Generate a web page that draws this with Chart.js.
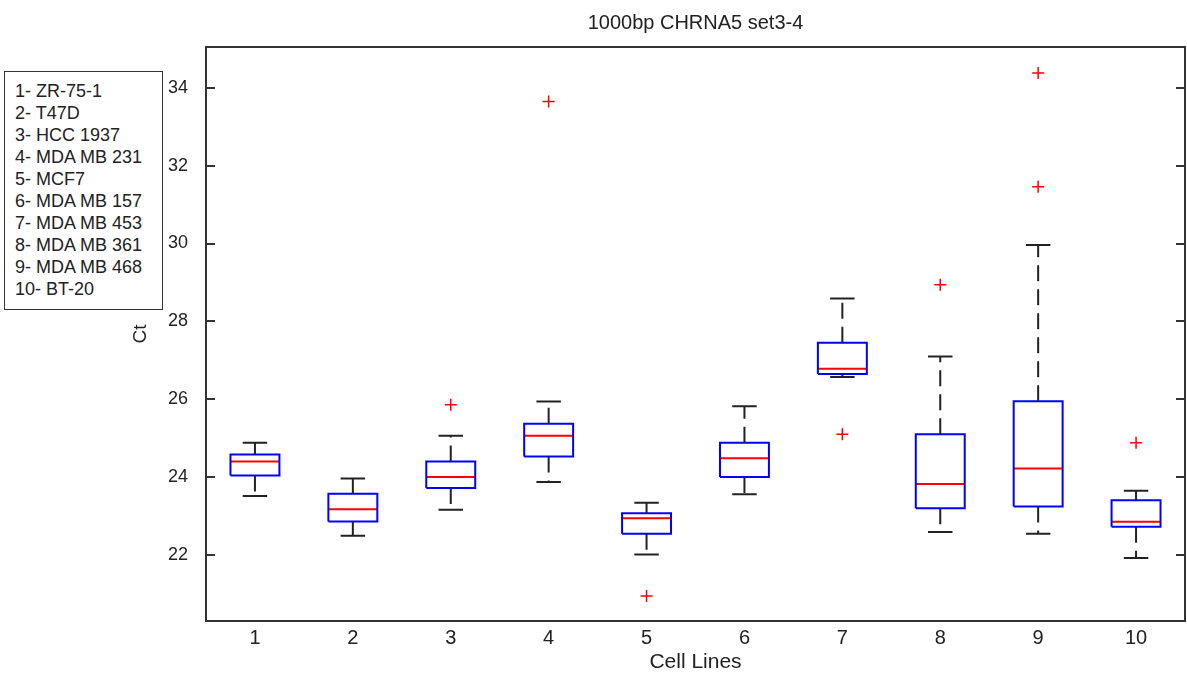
<!DOCTYPE html>
<html>
<head>
<meta charset="utf-8">
<title>1000bp CHRNA5 set3-4</title>
<script src="https://cdn.jsdelivr.net/npm/chart.js@4.4.1/dist/chart.umd.min.js"></script>
<style>
    html, body { margin: 0; padding: 0; background: #fff; }
    #wrap { position: relative; width: 1187px; height: 678px; }
    #key {
        position: absolute; left: 4px; top: 71px;
        width: 159px; height: 239px; box-sizing: border-box;
        border: 1.5px solid #333; padding: 8px 0 0 10px;
        font: 18px "Liberation Sans", Arial, sans-serif; line-height: 22px;
        color: #222; background: #fff; white-space: nowrap;
    }
</style>
</head>
<body>
<div id="wrap">
    <canvas id="boxChart" width="1187" height="678"></canvas>
    <div id="key"></div>
</div>
<script>
// Cell line tick labels and the legend names they stand for
const cellLines = ['1', '2', '3', '4', '5', '6', '7', '8', '9', '10'];
const cellNames = ['ZR-75-1', 'T47D', 'HCC 1937', 'MDA MB 231', 'MCF7',
                   'MDA MB 157', 'MDA MB 453', 'MDA MB 361', 'MDA MB 468', 'BT-20'];

// Box statistics (Ct)
const whiskerLow  = [23.51, 22.49, 23.16, 23.87, 22.01, 23.56, 26.57, 22.59, 22.54, 21.92];
const quartile1   = [24.04, 22.86, 23.72, 24.53, 22.54, 24.00, 26.65, 23.20, 23.24, 22.72];
const medians     = [24.40, 23.17, 24.00, 25.06, 22.94, 24.48, 26.78, 23.82, 24.22, 22.85];
const quartile3   = [24.58, 23.57, 24.40, 25.37, 23.07, 24.88, 27.45, 25.10, 25.95, 23.40];
const whiskerHigh = [24.88, 23.96, 25.06, 25.94, 23.34, 25.82, 28.59, 27.10, 29.96, 23.65];
const outliers    = [[], [], [25.86], [33.65], [20.94], [], [25.10], [28.94], [31.46, 34.38], [24.88]];

const yTicks = [22, 24, 26, 28, 30, 32, 34];

const chartColors = {
    box: '#0000ff',
    median: '#ff0000',
    whisker: '#222222',
    outlier: '#ff0000',
    axis: '#333333',
    text: '#222222'
};

const FONT = '"Liberation Sans", Arial, sans-serif';
const BOX_HALF = 0.25;   // half box width, in x units
const CAP_HALF = 0.125;  // half whisker cap width

// legend text box
document.getElementById('key').innerHTML =
    cellNames.map((name, i) => cellLines[i] + '- ' + name).join('<br>');

// join line pieces into one dataset, broken by null points
function pieces(list) {
    const out = [];
    list.forEach(seg => {
        seg.forEach(p => out.push(p));
        out.push({ x: seg[0].x, y: null });
    });
    return out;
}

const boxSegs = [], medianSegs = [], whiskerSegs = [], capSegs = [], outlierPts = [];
cellLines.forEach((label, i) => {
    const x = i + 1;
    boxSegs.push([
        { x: x - BOX_HALF, y: quartile1[i] }, { x: x + BOX_HALF, y: quartile1[i] },
        { x: x + BOX_HALF, y: quartile3[i] }, { x: x - BOX_HALF, y: quartile3[i] },
        { x: x - BOX_HALF, y: quartile1[i] }
    ]);
    medianSegs.push([{ x: x - BOX_HALF, y: medians[i] }, { x: x + BOX_HALF, y: medians[i] }]);
    whiskerSegs.push([{ x: x, y: quartile3[i] }, { x: x, y: whiskerHigh[i] }]);
    whiskerSegs.push([{ x: x, y: quartile1[i] }, { x: x, y: whiskerLow[i] }]);
    capSegs.push([{ x: x - CAP_HALF, y: whiskerHigh[i] }, { x: x + CAP_HALF, y: whiskerHigh[i] }]);
    capSegs.push([{ x: x - CAP_HALF, y: whiskerLow[i] }, { x: x + CAP_HALF, y: whiskerLow[i] }]);
    outliers[i].forEach(v => outlierPts.push({ x: x, y: v }));
});

function lineSet(data, color, dash) {
    return {
        data: data,
        showLine: true,
        spanGaps: false,
        borderColor: color,
        borderWidth: 2,
        borderDash: dash || [],
        pointRadius: 0,
        fill: false
    };
}

// MATLAB style frame with inward y ticks on both sides
const framePlugin = {
    id: 'frame',
    afterDraw(chart) {
        const { ctx, chartArea: a, scales } = chart;
        ctx.save();
        ctx.strokeStyle = chartColors.axis;
        ctx.lineWidth = 2;
        ctx.strokeRect(a.left, a.top, a.right - a.left, a.bottom - a.top);
        ctx.beginPath();
        scales.y.ticks.forEach(t => {
            const y = Math.round(scales.y.getPixelForValue(t.value));
            ctx.moveTo(a.left, y);
            ctx.lineTo(a.left + 9, y);
            ctx.moveTo(a.right, y);
            ctx.lineTo(a.right - 9, y);
        });
        ctx.stroke();
        ctx.restore();
    }
};

new Chart(document.getElementById('boxChart').getContext('2d'), {
    type: 'scatter',
    data: {
        datasets: [
            lineSet(pieces(whiskerSegs), chartColors.whisker, [16, 8]),
            lineSet(pieces(capSegs), chartColors.whisker),
            lineSet(pieces(boxSegs), chartColors.box),
            lineSet(pieces(medianSegs), chartColors.median),
            {
                data: outlierPts,
                pointStyle: 'cross',
                pointRadius: 6,
                borderColor: chartColors.outlier,
                borderWidth: 1.5,
                showLine: false
            }
        ]
    },
    options: {
        responsive: false,
        animation: false,
        devicePixelRatio: 1,
        events: [],
        layout: {
            autoPadding: false,
            padding: { left: 120, right: 2, top: 0, bottom: 0 }
        },
        scales: {
            x: {
                type: 'linear',
                min: 0.5,
                max: 10.5,
                afterBuildTicks: scale => {
                    scale.ticks = cellLines.map((c, i) => ({ value: i + 1 }));
                },
                afterFit: scale => {
                    scale.height = 57;
                    scale.paddingLeft = 0;
                    scale.paddingRight = 0;
                },
                grid: { display: false, drawTicks: false },
                border: { display: false },
                ticks: {
                    padding: 5,
                    color: chartColors.text,
                    font: { family: FONT, size: 20 },
                    callback: value => cellLines[value - 1]
                },
                title: {
                    display: true,
                    text: 'Cell Lines',
                    color: chartColors.text,
                    font: { family: FONT, size: 21 },
                    padding: { top: 0, bottom: 3 }
                }
            },
            y: {
                min: 20.3,
                max: 35.05,
                afterBuildTicks: scale => {
                    scale.ticks = yTicks.map(v => ({ value: v }));
                },
                afterFit: scale => { scale.width = 86; },
                grid: { display: false, drawTicks: false },
                border: { display: false },
                ticks: {
                    padding: 18,
                    color: chartColors.text,
                    font: { family: FONT, size: 18 }
                },
                title: {
                    display: true,
                    text: 'Ct',
                    color: chartColors.text,
                    font: { family: FONT, size: 19 },
                    padding: { top: 9, bottom: 0 }
                }
            }
        },
        plugins: {
            legend: { display: false },
            tooltip: { enabled: false },
            title: {
                display: true,
                fullSize: false,
                text: '1000bp CHRNA5 set3-4',
                color: chartColors.text,
                font: { family: FONT, size: 20, weight: 'normal' },
                padding: { top: 11, bottom: 12 }
            }
        }
    },
    plugins: [framePlugin]
});
</script>
</body>
</html>
